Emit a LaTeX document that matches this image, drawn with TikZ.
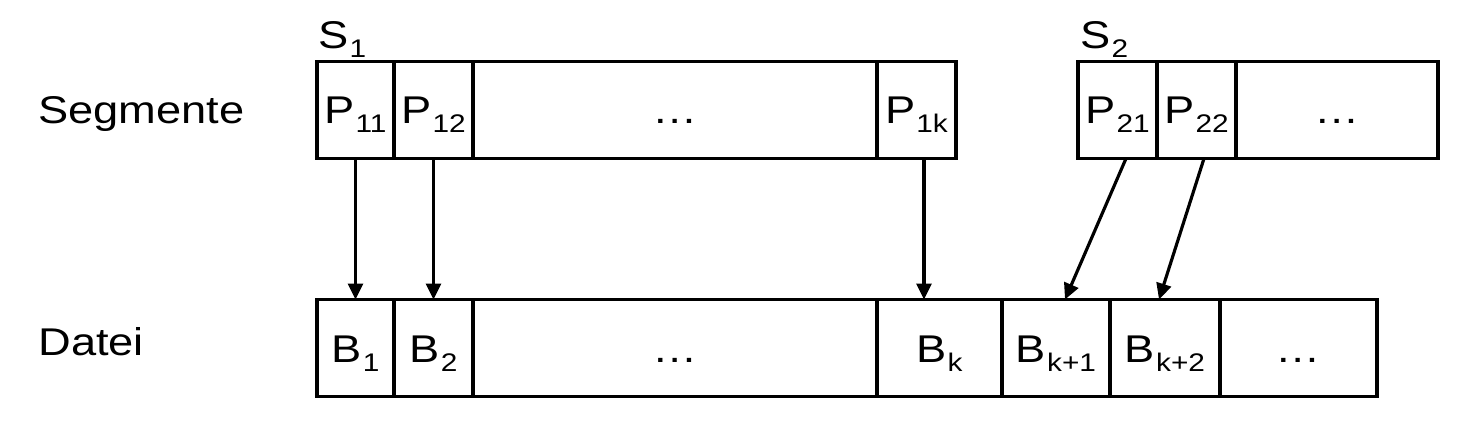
\documentclass[tikz,border=0pt]{standalone}
\usepackage{fontspec}
\setmainfont[FakeStretch=1.17]{Liberation Sans}
\usepackage{tikz}
\usetikzlibrary{positioning,arrows.meta}
\newcommand{\idx}[1]{\kern0.2mm\raisebox{-1.8mm}{\fontsize{14.5}{16}\selectfont #1}}
\tikzset{
  cell/.style={draw=black, line width=1.8pt, inner sep=0pt, outer sep=0pt, minimum height=19.4mm, font=\fontsize{22}{26}\selectfont},
  top/.style={cell, text height=5.2mm, text depth=0pt},
  bot/.style={cell, text height=5.8mm, text depth=0pt},
  lab/.style={anchor=base west, inner sep=0pt, font=\fontsize{22}{26}\selectfont},
  arr/.style={draw=black, line width=1.8pt, -{Triangle[length=3.2mm,width=3mm]}},
}
\begin{document}
\begin{tikzpicture}[x=0.2mm, y=0.2mm]
  \useasboundingbox (0,0) rectangle (1462,420);
  % Segment S1
  \node[top, anchor=west, minimum width=15.4mm] (P11) at (317,310) {P\idx{11}};
  \node[top, minimum width=15.8mm, right=0pt of P11] (P12) {P\idx{12}};
  \node[top, minimum width=80.8mm, right=0pt of P12] (Pd1) {\dots};
  \node[top, minimum width=15.8mm, right=0pt of Pd1] (P1k) {P\idx{1k}};
  % Segment S2
  \node[top, anchor=west, minimum width=15.8mm] (P21) at (1078,310) {P\idx{21}};
  \node[top, minimum width=15.8mm, right=0pt of P21] (P22) {P\idx{22}};
  \node[top, minimum width=40.4mm, right=0pt of P22] (Pd2) {\dots};
  % Datei
  \node[bot, anchor=west, minimum width=15.4mm] (B1) at (317,72) {B\idx{1}};
  \node[bot, minimum width=15.8mm, right=0pt of B1] (B2) {B\idx{2}};
  \node[bot, minimum width=80.8mm, right=0pt of B2] (Bd1) {\dots};
  \node[bot, minimum width=25mm, right=0pt of Bd1] (Bk) {B\idx{k}};
  \node[bot, minimum width=21.6mm, right=0pt of Bk] (Bk1) {B\idx{k+1}};
  \node[bot, minimum width=22mm, right=0pt of Bk1] (Bk2) {B\idx{k+2}};
  \node[bot, minimum width=31.4mm, right=0pt of Bk2] (Bd2) {\dots};
  % labels
  \node[lab] (seg) at (38,297) {Segmente};
  \node[lab] (dat) at (38,65) {Datei};
  \node[lab] (S1) at (318,372) {S\idx{1}};
  \node[lab] (S2) at (1080,372) {S\idx{2}};
  % arrows
  \draw[arr] (P11.south) -- (B1.north);
  \draw[arr] (P12.south) -- (B2.north);
  \draw[arr] ([xshift=1.5mm]P1k.south) -- ([xshift=1.5mm]P1k.south |- Bk.north);
  \draw[arr] ([xshift=1.7mm]P21.south) -- ([xshift=1.8mm]Bk1.north);
  \draw[arr] ([xshift=1.5mm]P22.south) -- ([xshift=-1.2mm]Bk2.north);
\end{tikzpicture}
\end{document}
